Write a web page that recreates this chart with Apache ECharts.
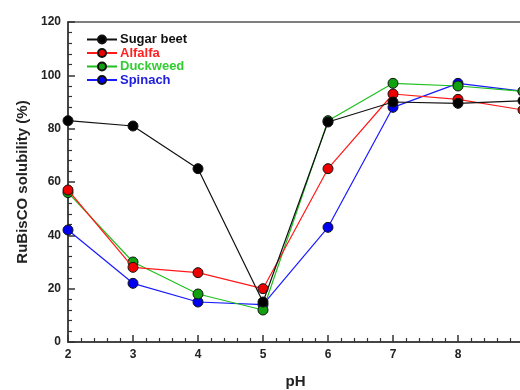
<!DOCTYPE html>
<html><head><meta charset="utf-8">
<script src="https://cdn.jsdelivr.net/npm/echarts@6/dist/echarts.min.js"></script>
<style>html,body{margin:0;padding:0;background:#fff}#c{width:520px;height:390px}</style>
</head><body><div id="c"></div>
<script>
const phValues = [2, 3, 4, 5, 6, 7, 8, 9];
const seriesNames = ['Sugar beet', 'Alfalfa', 'Duckweed', 'Spinach'];
const sugarBeet = [83, 81, 65, 15, 82.5, 90, 89.5, 90.5];
const alfalfa = [57, 28, 26, 20, 65, 93, 91, 87];
const duckweed = [56, 30, 18, 12, 83, 97, 96, 94];
const spinach = [42, 22, 15, 14, 43, 88, 97, 94];
const yTicks = [0, 20, 40, 60, 80, 100, 120];

const lineColors = ['#111111', '#ff1a1a', '#1fbf1f', '#1a1aff'];
const fillColors = ['#000000', '#ee0000', '#10a010', '#0000ee'];
const textColors = ['#111111', '#ff2020', '#33cc33', '#2020dd'];
const allData = [sugarBeet, alfalfa, duckweed, spinach];

const chart = echarts.init(document.getElementById('c'), null, {renderer: 'canvas'});
const font = 'Arial, "Liberation Sans", sans-serif';
chart.setOption({
  animation: false,
  grid: {left: 68, top: 22, right: -3, bottom: 48, containLabel: false, outerBoundsMode: 'none',
         show: true, borderColor: '#555', borderWidth: 1.5, backgroundColor: 'transparent'},
  legend: {
    left: 81, top: 28, orient: 'vertical', itemGap: 0.5, itemWidth: 30, itemHeight: 10,
    data: seriesNames.map((n, i) => ({name: n, textStyle: {color: textColors[i]}})),
    textStyle: {fontFamily: font, fontWeight: 'bold', fontSize: 13, lineHeight: 13, padding: [0, 0, 0, -2]}
  },
  xAxis: {
    type: 'value', min: 2, max: 9, interval: 1,
    name: 'pH', nameLocation: 'middle', nameGap: 32,
    nameTextStyle: {fontFamily: font, fontWeight: 'bold', fontSize: 15, color: '#222'},
    axisLine: {lineStyle: {color: '#333', width: 1.5}},
    axisTick: {inside: true, length: 7, lineStyle: {color: '#333', width: 1.5}},
    minorTick: {show: true, splitNumber: 5, length: 4, lineStyle: {color: '#333', width: 1.2}},
    axisLabel: {fontFamily: font, fontWeight: 'bold', fontSize: 12, color: '#222', margin: 7, showMaxLabel: true},
    splitLine: {show: false}
  },
  yAxis: {
    type: 'value', min: yTicks[0], max: yTicks[yTicks.length - 1], interval: 20,
    name: 'RuBisCO solubility (%)', nameLocation: 'middle', nameGap: 37,
    nameTextStyle: {fontFamily: font, fontWeight: 'bold', fontSize: 15, color: '#222'},
    axisLine: {show: true, lineStyle: {color: '#333', width: 1.5}},
    axisTick: {show: true, inside: true, length: 7, lineStyle: {color: '#333', width: 1.5}},
    minorTick: {show: true, splitNumber: 5, length: 4, lineStyle: {color: '#333', width: 1.2}},
    axisLabel: {fontFamily: font, fontWeight: 'bold', fontSize: 12, color: '#222', margin: 7},
    splitLine: {show: false}
  },
  series: seriesNames.map((n, i) => ({
    name: n, type: 'line',
    data: phValues.map((x, j) => [x, allData[i][j]]),
    symbol: 'circle', symbolSize: 10,
    lineStyle: {color: lineColors[i], width: 1.2},
    itemStyle: {color: fillColors[i], borderColor: '#111', borderWidth: 1},
    z: 10 - i
  }))
});
</script></body></html>
